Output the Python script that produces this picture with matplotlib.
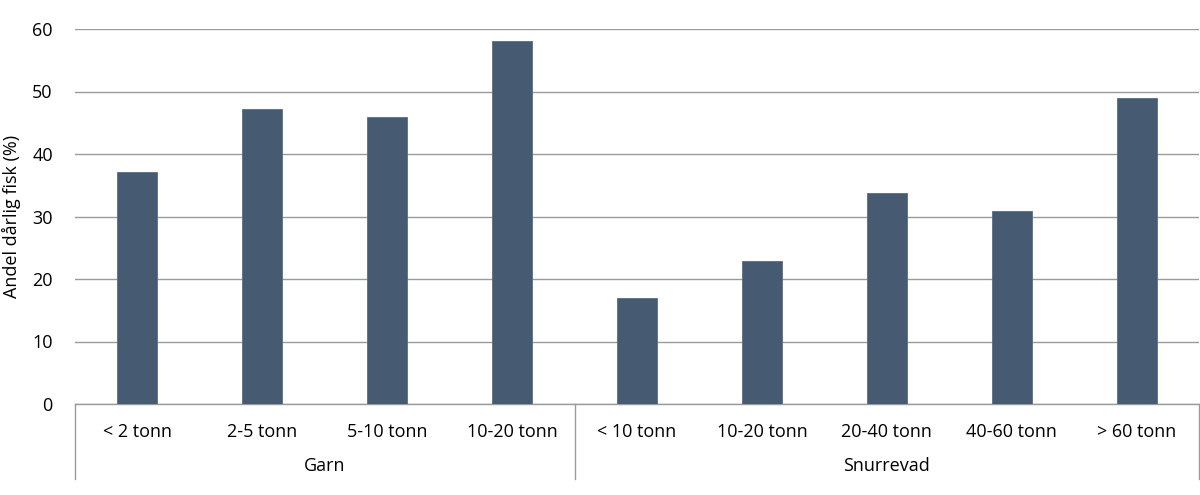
import matplotlib
matplotlib.use("Agg")
import matplotlib.pyplot as plt
from matplotlib.lines import Line2D
import numpy as np

categories = ["< 2 tonn", "2-5 tonn", "5-10 tonn", "10-20 tonn",
              "< 10 tonn", "10-20 tonn", "20-40 tonn", "40-60 tonn", "> 60 tonn"]
values = [37.1, 47.2, 45.9, 58.1, 17.0, 22.9, 33.8, 30.9, 48.9]
groups = ["Garn", "Snurrevad"]
group_sizes = [4, 5]
yticks = [0, 10, 20, 30, 40, 50, 60]

plt.rcParams['font.family'] = ['Open Sans', 'DejaVu Sans']

fig = plt.figure(figsize=(12, 4.95), dpi=100)
ax = fig.add_axes([75 / 1200, 1 - 404 / 495, 1124 / 1200, 375 / 495])

bar_color = '#465a72'
grid_color = '#9a9a9a'
fs = 13
x = np.arange(len(categories))
ax.bar(x, values, width=0.32, color=bar_color, edgecolor='#5a6d84', linewidth=0.6, zorder=3)

ax.set_xlim(-0.5, len(categories) - 0.5)
ax.set_ylim(0, 60)
ax.set_yticks(yticks)
ax.set_yticklabels([str(t) for t in yticks], fontsize=fs)
ax.yaxis.grid(True, color=grid_color, linewidth=1.0, zorder=0)
ax.tick_params(axis='y', length=0, pad=16)
ax.set_xticks([])
for s in ['top', 'right', 'left']:
    ax.spines[s].set_visible(False)
ax.spines['bottom'].set_color(grid_color)
ax.spines['bottom'].set_linewidth(1.0)
ax.set_ylabel('Andel dårlig fisk (%)', fontsize=fs, labelpad=8)

trans = ax.get_xaxis_transform()
for i, c in enumerate(categories):
    ax.text(i, -28 / 375, c, transform=trans, ha='center', va='center', fontsize=fs)

start = 0
bounds = [-0.5]
for g, n in zip(groups, group_sizes):
    center = start + (n - 1) / 2
    ax.text(center, -62 / 375, g, transform=trans, ha='center', va='center', fontsize=fs)
    start += n
    bounds.append(start - 0.5)

for b in bounds:
    ax.add_line(Line2D([b, b], [0, -75 / 375], transform=trans, color=grid_color,
                       linewidth=1.0, clip_on=False))

fig.savefig('out.png', dpi=100)
